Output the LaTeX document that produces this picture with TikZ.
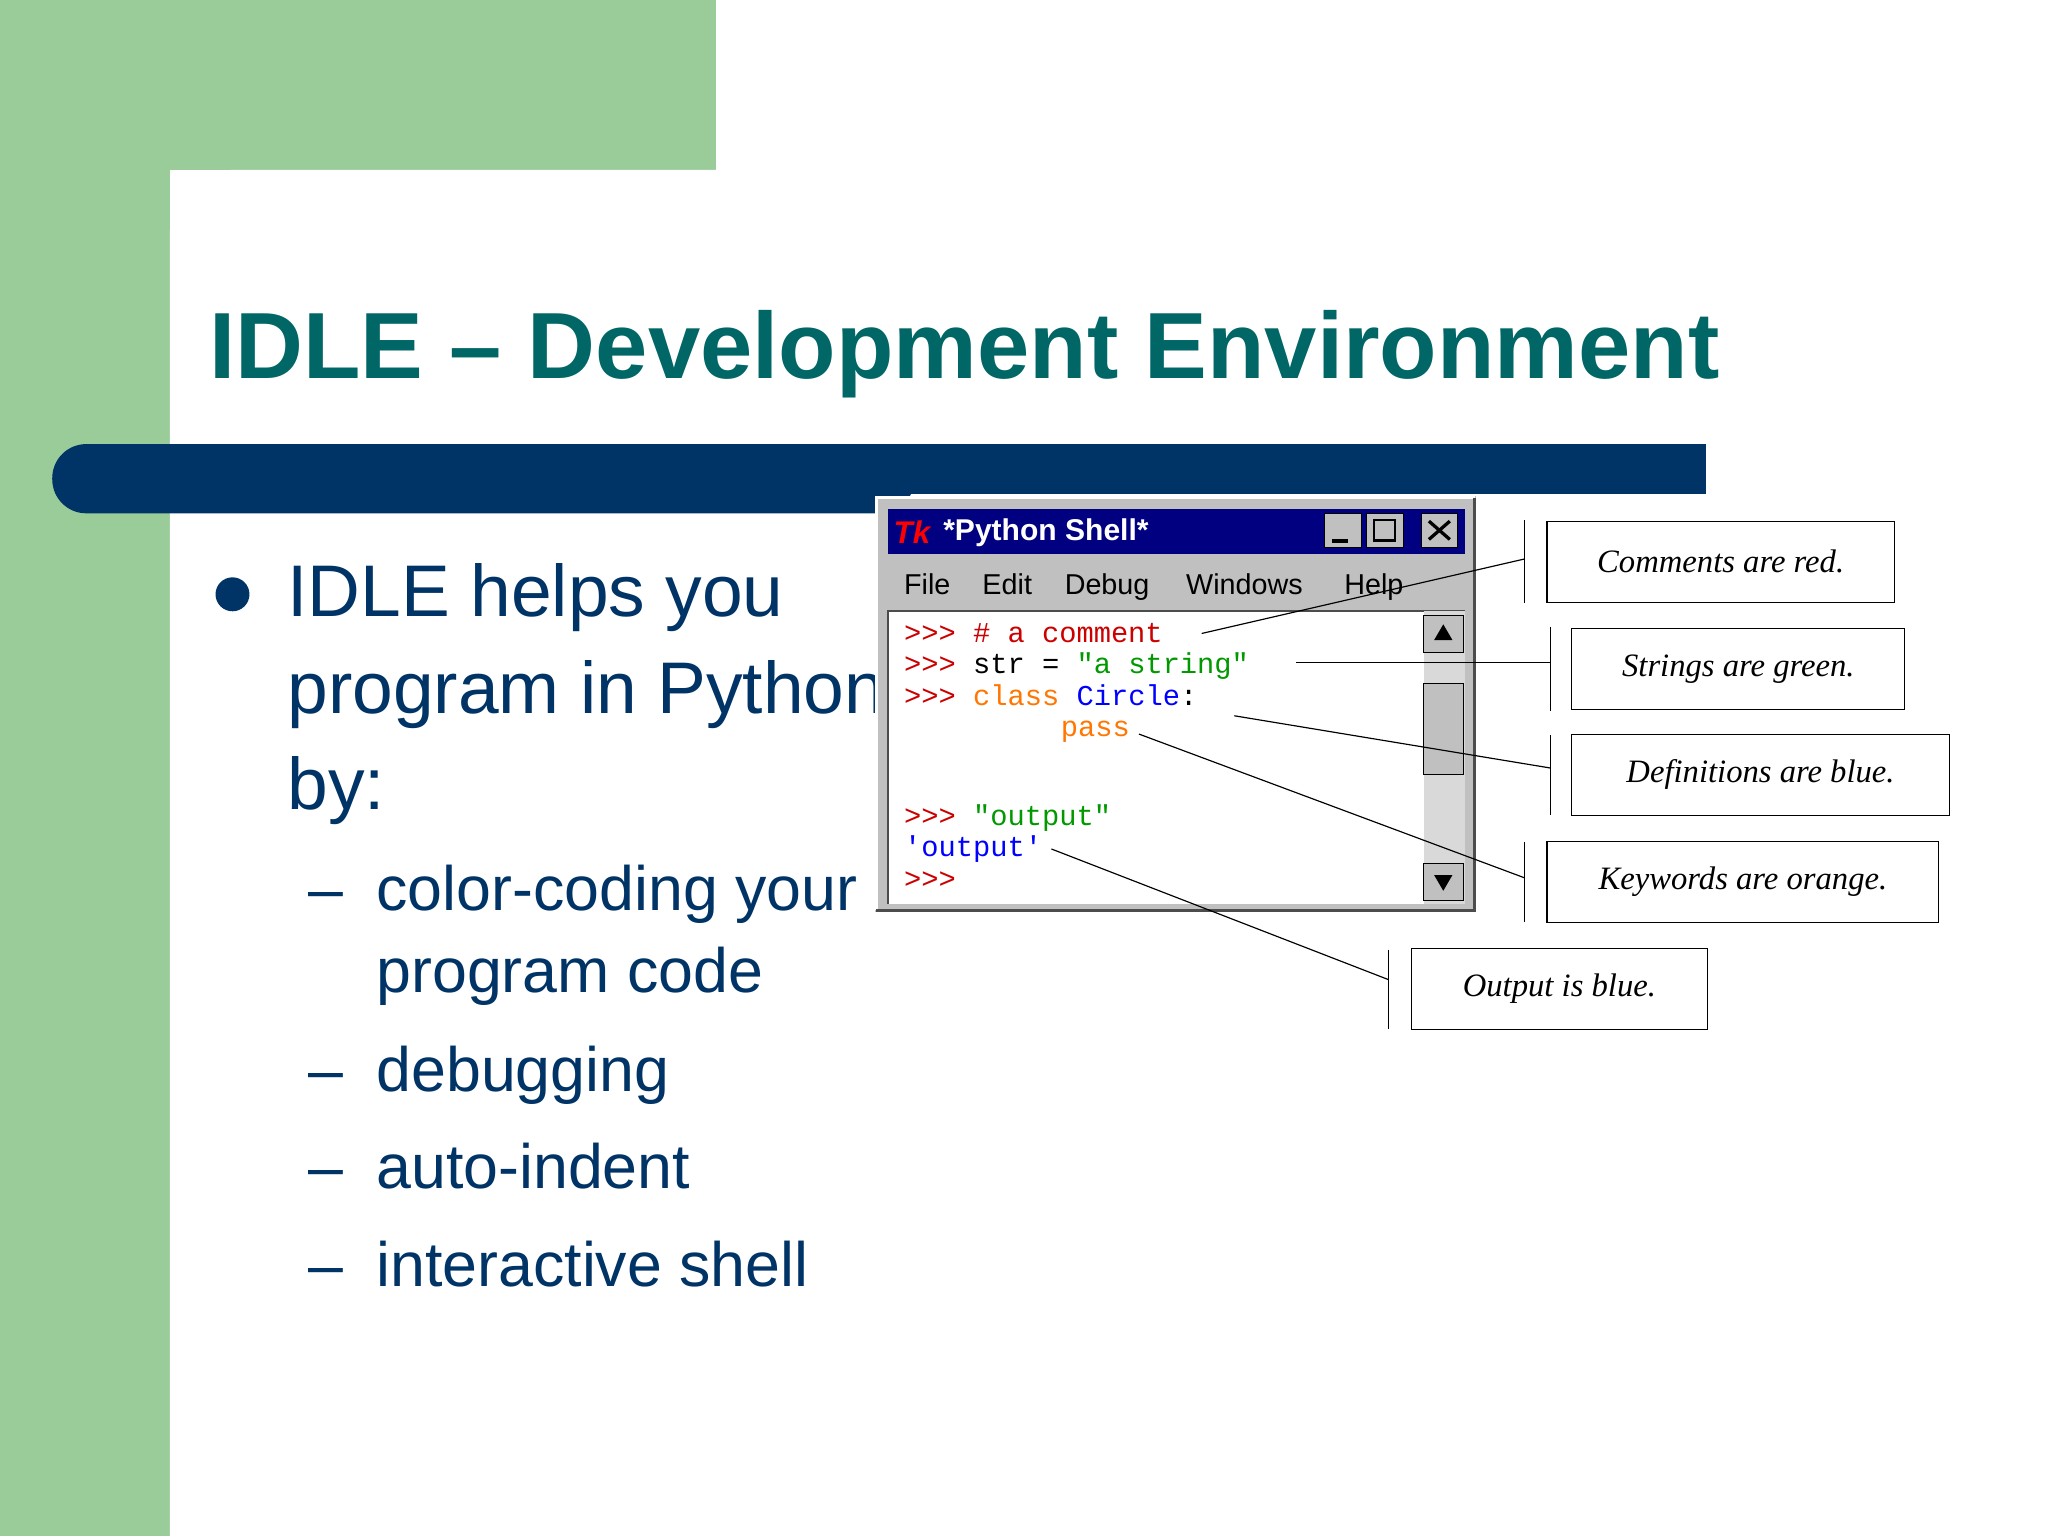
\documentclass[tikz,border=0pt]{standalone}
\usepackage{fontspec}
\setmainfont{Liberation Sans}
\newfontfamily\codefont{Liberation Mono}
\newfontfamily\notefont{Liberation Serif}
\definecolor{sgreen}{RGB}{153,204,153}
\definecolor{teal2}{RGB}{0,102,102}
\definecolor{navyb}{RGB}{0,51,102}
\definecolor{wgray}{RGB}{192,192,192}
\definecolor{winnavy}{RGB}{0,0,128}
\definecolor{cred}{RGB}{204,0,0}
\definecolor{cgreen}{RGB}{0,153,0}
\definecolor{cblue}{RGB}{0,0,255}
\definecolor{corange}{RGB}{255,119,0}
\tikzset{
 body/.style={anchor=base west,inner sep=0,text=navyb,font=\fontsize{56}{60}\selectfont},
 sub/.style={anchor=base west,inner sep=0,text=navyb,font=\fontsize{48}{52}\selectfont},
 code/.style={anchor=base west,inner sep=0,font=\codefont\fontsize{22}{24}\selectfont},
 menu/.style={anchor=base west,inner sep=0,font=\fontsize{22}{24}\selectfont},
 note/.style={draw,thick,minimum height=62pt,font=\notefont\itshape\fontsize{25}{28}\selectfont,anchor=west,inner xsep=18pt},
 conn/.style={black,line width=0.9pt},
 brk/.style={black,line width=0.9pt},
 btn/.style={draw=black,fill=wgray,minimum width=28pt,minimum height=26pt,inner sep=0}
}
\begin{document}
\begin{tikzpicture}[x=1pt,y=-1pt]
\useasboundingbox (0,0) rectangle (1568,1176);
\fill[white] (0,0) rectangle (1568,1176);
\fill[sgreen] (0,0) rectangle (548,130);
\fill[sgreen] (0,0) rectangle (130,1176);
\fill[white,rounded corners=50pt] (130,130) rectangle (1700,1300);
% title
\node[anchor=base west,inner sep=0,text=teal2,font=\bfseries\fontsize{72}{76}\selectfont] (title) at (160,290) {IDLE -- Development Environment};
% bar
\fill[navyb,rounded corners=26pt] (40,340) rectangle (700,393);
\fill[navyb] (300,340) rectangle (1306,378);
% bullets
\fill[navyb] (178,455) circle (13);
\node[body] (b1) at (220,472) {IDLE helps you};
\node[body] (b2) at (220,546) {program in Python};
\node[body] (b3) at (220,620) {by:};
\foreach \t/\y/\n in {color-coding your/697/s1,program code/760/s2,debugging/836/s3,auto-indent/910/s4,interactive shell/985/s5}{
  \node[sub] (\n) at (288,\y) {\t};}
\foreach \y in {697,836,910,985}{\node[sub] at (236,\y) {--};}
% window
\fill[wgray] (670,380) rectangle (1130,698);
\draw[white,line width=2pt] (671,697) -- (671,381) -- (1129,381);
\draw[gray!60!black,line width=2pt] (671,697) -- (1129,697) -- (1129,381);
\fill[winnavy] (680,390) rectangle (1122,424);
\node[anchor=base west,inner sep=0,text=red,font=\bfseries\itshape\fontsize{24}{26}\selectfont] (tk) at (684,416) {Tk};
\node[anchor=base west,inner sep=0,text=white,font=\bfseries\fontsize{23}{26}\selectfont] (wt) at (722,414) {*Python Shell*};
\node[btn] (bmin) at (1028,406) {};
\draw[line width=3pt] (1020,414) -- (1032,414);
\node[btn] (bmax) at (1060,406) {};
\draw[line width=2pt] (1052,398) rectangle (1068,414);
\node[btn] (bx) at (1102,406) {};
\draw[line width=2.5pt] (1094,399) -- (1110,413) (1094,413) -- (1110,399);
\node[menu] (mf) at (692,455) {File};
\node[menu] (me) at (752,455) {Edit};
\node[menu] (md) at (815,455) {Debug};
\node[menu] (mw) at (908,455) {Windows};
\node[menu] (mh) at (1029,455) {Help};
\fill[white] (680,468) rectangle (1090,692);
\draw[gray!60!black,line width=1.5pt] (680,692) -- (680,468) -- (1122,468);
\fill[gray!30] (1090,468) rectangle (1122,692);
\node[btn,minimum width=30pt,minimum height=28pt] (up) at (1105,485) {};
\fill (1105,478) -- (1098,490) -- (1112,490) -- cycle;
\node[btn,minimum width=30pt,minimum height=70pt] (thumb) at (1105,558) {};
\node[btn,minimum width=30pt,minimum height=28pt] (dn) at (1105,675) {};
\fill (1105,682) -- (1098,670) -- (1112,670) -- cycle;
% code
\node[code] (l1) at (692,492) {\textcolor{cred}{>{}>{}>\ \# a comment}};
\node[code] (l2) at (692,516) {\textcolor{cred}{>{}>{}>}\ str = \textcolor{cgreen}{"a string"}};
\node[code] (l3) at (692,540) {\textcolor{cred}{>{}>{}>}\ \textcolor{corange}{class} \textcolor{cblue}{Circle}:};
\node[code] (l4) at (812,564) {\textcolor{corange}{pass}};
\node[code] (l5) at (692,632) {\textcolor{cred}{>{}>{}>}\ \textcolor{cgreen}{"output"}};
\node[code] (l6) at (692,656) {\textcolor{cblue}{'output'}};
\node[code] (l7) at (692,680) {\textcolor{cred}{>{}>{}>}};
% notes
\node[note,minimum width=266pt] (n1) at (1184,430) {Comments are red.};
\node[note,minimum width=255pt] (n2) at (1203,512) {Strings are green.};
\node[note,minimum width=289pt] (n3) at (1203,593) {Definitions are blue.};
\node[note,minimum width=300pt] (n4) at (1184,675) {Keywords are orange.};
\node[note,minimum width=227pt] (n5) at (1080,757) {Output is blue.};
\draw[brk] (1167,398) -- (1167,462);
\draw[brk] (1187,480) -- (1187,544);
\draw[brk] (1187,563) -- (1187,624);
\draw[brk] (1167,645) -- (1167,706);
\draw[brk] (1063,727) -- (1063,788);
\coordinate (c1) at (1167,428); \coordinate (e1) at (920,485);
\coordinate (c2) at (1187,507); \coordinate (e2) at (992,507);
\coordinate (c3) at (1187,588); \coordinate (e3) at (945,548);
\coordinate (c4) at (1167,672); \coordinate (e4) at (872,562);
\coordinate (c5) at (1063,750); \coordinate (e5) at (805,650);
\foreach \i in {1,...,5}{\draw[conn] (c\i) -- (e\i);}
\end{tikzpicture}
\end{document}
